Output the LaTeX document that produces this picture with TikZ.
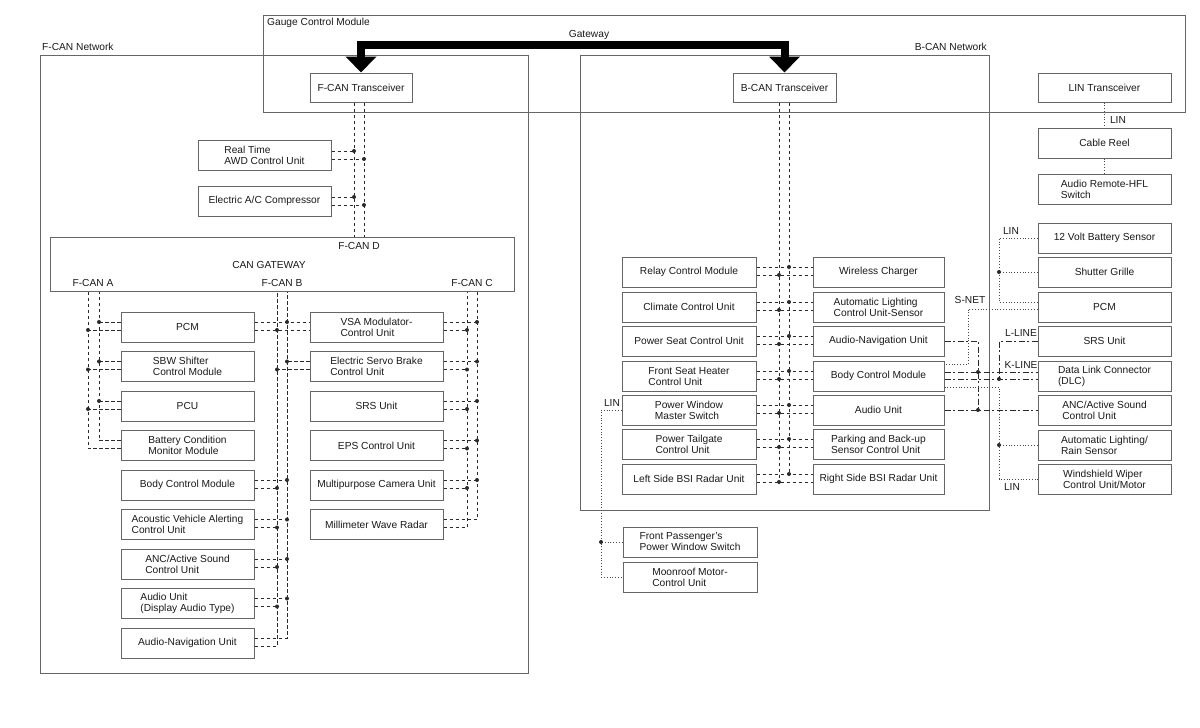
\documentclass[tikz,border=0pt]{standalone}
\usepackage{fontspec}
\setmainfont{Liberation Sans}
\usetikzlibrary{arrows.meta,calc}
\definecolor{boxc}{HTML}{666666}
\definecolor{busc}{HTML}{2A2A2A}
\definecolor{txtc}{HTML}{1A1A1A}
\newcommand\jd[1]{\fill[busc] (#1) circle[radius=2pt];}
\newcommand\mystub[3]{\path ($(#1)+(0,#2)$) coordinate (tmp); \draw[bus] (tmp) -- (tmp -| #3); \jd{tmp -| #3}}
\newcommand\myrow[4]{\path ($(#1)+(0,#3)$) coordinate (tmp); \draw[bus] (tmp) -- ($(#2)+(0,#3)$); \jd{tmp -| #4}}
\begin{document}
\begin{tikzpicture}[x=1pt,y=-1pt,
  font=\fontsize{10.2}{11}\selectfont,
  frame/.style={draw=boxc,line width=1pt},
  bx/.style={draw=boxc,line width=1pt,text=txtc,align=left,minimum height=30pt,inner sep=1pt},
  wA/.style={bx,minimum width=133pt},
  wB/.style={bx,minimum width=134pt},
  wC/.style={bx,minimum width=131pt},
  trx/.style={bx,minimum width=102pt,minimum height=29pt},
  bus/.style={draw=busc,line width=1pt,dash pattern=on 3.5pt off 2.5pt},
  dotl/.style={draw=busc!85,line width=1pt,dash pattern=on 1pt off 1.8pt},
  dashdot/.style={draw=busc,line width=1pt,dash pattern=on 6pt off 2.5pt on 2pt off 2.5pt},
  lbl/.style={text=txtc,inner sep=0pt}
]
\useasboundingbox (0,0) rectangle (1200,728);
\fill[white] (0,0) rectangle (1200,728);

% frames
\draw[frame] (263,15) rectangle (1185,112);
\draw[frame] (40,55) rectangle (528,673);
\draw[frame] (580,55) rectangle (989,510);
\node[lbl,anchor=west] (lgcm) at (267,23) {Gauge Control Module};
\node[lbl] (lgw) at (589,35) {Gateway};
\node[lbl,anchor=west] (lfn) at (42,47) {F-CAN Network};
\node[lbl,anchor=east] (lbn) at (987,47) {B-CAN Network};

% transceivers
\node[trx] (fcant) at (361,87.5) {F-CAN Transceiver};
\node[trx,minimum width=103pt] (bcant) at (784.5,87.5) {B-CAN Transceiver};
\node[wA,minimum height=29pt] (lint) at (1104.5,87.5) {LIN Transceiver};

% gateway arrow
\draw[line width=8pt,line join=miter,{Triangle[width=30pt,length=16pt]}-{Triangle[width=30pt,length=16pt]}] (fcant.north) -- ++(0,-28) -| (bcant.north);

% CAN gateway
\node[draw=boxc,line width=1pt,minimum width=464pt,minimum height=54pt] (gw) at (282,264) {};
\node[lbl] (lfd) at (359,246) {F-CAN D};
\node[lbl] (lcg) at (269,265) {CAN GATEWAY};
\node[lbl] (lfa) at (93,283) {F-CAN A};
\node[lbl] (lfb) at (282,283) {F-CAN B};
\node[lbl] (lfc) at (472,283) {F-CAN C};

% bus x positions
\coordinate (xdL) at (354,0); \coordinate (xdR) at (364,0);
\coordinate (xaL) at (88,0);  \coordinate (xaR) at (99,0);
\coordinate (xbL) at (277,0); \coordinate (xbR) at (287,0);
\coordinate (xcL) at (467,0); \coordinate (xcR) at (477,0);
\coordinate (xBL) at (779,0); \coordinate (xBR) at (789,0);
\coordinate (xlin) at (999,0); \coordinate (xsn) at (968,0); \coordinate (xk) at (978,0);
\coordinate (xlb) at (601,0);

% F-CAN D units
\node[wA] (awd) at (264.5,155) {Real Time\\AWD Control Unit};
\node[wA] (acc) at (264.5,201) {Electric A/C Compressor};

% F-CAN A / B left column
\node[wA] (pcm1) at (187.5,327) {PCM};
\node[wA] (sbw) at (187.5,366.5) {SBW Shifter\\Control Module};
\node[wA] (pcu) at (187.5,406) {PCU};
\node[wA] (bcmm) at (187.5,445.5) {Battery Condition\\Monitor Module};
\node[wA] (bcm1) at (187.5,485) {Body Control Module};
\node[wA] (ava) at (187.5,524.5) {Acoustic Vehicle Alerting\\Control Unit};
\node[wA] (anc1) at (187.5,564) {ANC/Active Sound\\Control Unit};
\node[wA] (aud1) at (187.5,603.5) {Audio Unit\\(Display Audio Type)};
\node[wA] (nav1) at (187.5,643) {Audio-Navigation Unit};

% F-CAN B / C column
\node[wA] (vsa) at (376.5,327) {VSA Modulator-\\Control Unit};
\node[wA] (esb) at (376.5,366.5) {Electric Servo Brake\\Control Unit};
\node[wA] (srs1) at (376.5,406) {SRS Unit};
\node[wA] (eps) at (376.5,445.5) {EPS Control Unit};
\node[wA] (mpc) at (376.5,485) {Multipurpose Camera Unit};
\node[wA] (mwr) at (376.5,524.5) {Millimeter Wave Radar};

% B-CAN left column
\node[wB] (rcm) at (689,272) {Relay Control Module};
\node[wB] (ccu) at (689,307) {Climate Control Unit};
\node[wB] (psc) at (689,341) {Power Seat Control Unit};
\node[wB] (fsh) at (689,376) {Front Seat Heater\\Control Unit};
\node[wB] (pwm) at (689,410) {Power Window\\Master Switch};
\node[wB] (ptg) at (689,444) {Power Tailgate\\Control Unit};
\node[wB] (lbsi) at (689,479) {Left Side BSI Radar Unit};
\node[wB] (fpw) at (690,542) {Front Passenger's\\Power Window Switch};
\node[wB] (moon) at (690,577) {Moonroof Motor-\\Control Unit};

% B-CAN right column
\node[wC] (wch) at (878.5,272) {Wireless Charger};
\node[wC] (alc) at (878.5,307) {Automatic Lighting\\Control Unit-Sensor};
\node[wC] (nav2) at (878.5,341) {Audio-Navigation Unit};
\node[wC] (bcm2) at (878.5,376) {Body Control Module};
\node[wC] (aud2) at (878.5,410) {Audio Unit};
\node[wC] (pbs) at (878.5,444) {Parking and Back-up\\Sensor Control Unit};
\node[wC] (rbsi) at (878.5,479) {Right Side BSI Radar Unit};

% far right column
\node[wA] (creel) at (1104.5,143) {Cable Reel};
\node[wA] (arhfl) at (1104.5,189.5) {Audio Remote-HFL\\Switch};
\node[wA] (bat12) at (1104.5,238) {12 Volt Battery Sensor};
\node[wA] (shg) at (1104.5,272) {Shutter Grille};
\node[wA] (pcm2) at (1104.5,307) {PCM};
\node[wA] (srs2) at (1104.5,341) {SRS Unit};
\node[wA] (dlc) at (1104.5,376) {Data Link Connector\\(DLC)};
\node[wA] (anc2) at (1104.5,410) {ANC/Active Sound\\Control Unit};
\node[wA] (alr) at (1104.5,445) {Automatic Lighting/\\Rain Sensor};
\node[wA] (wwc) at (1104.5,479) {Windshield Wiper\\Control Unit/Motor};

% ---- F-CAN D bus
\draw[bus] (fcant.south -| xdL) -- (gw.north -| xdL);
\draw[bus] (fcant.south -| xdR) -- (gw.north -| xdR);
\mystub{awd.east}{-4}{xdL} \mystub{awd.east}{4}{xdR}
\mystub{acc.east}{-4}{xdL} \mystub{acc.east}{4}{xdR}

% ---- F-CAN A bus
\draw[bus] ($(bcmm.west)+(0,-5)$) -| (gw.south -| xaR);
\draw[bus] ($(bcmm.west)+(0,3)$) -| (gw.south -| xaL);
\foreach \n in {pcm1,sbw,pcu}{\mystub{\n.west}{-5}{xaR} \mystub{\n.west}{3}{xaL}}

% ---- F-CAN B bus
\draw[bus] ($(nav1.east)+(0,-5)$) -| (gw.south -| xbR);
\draw[bus] ($(nav1.east)+(0,3)$) -| (gw.south -| xbL);
\myrow{pcm1.east}{vsa.west}{-5}{xbR} \myrow{pcm1.east}{vsa.west}{3}{xbL}
\mystub{esb.west}{-5}{xbR} \mystub{esb.west}{3}{xbL}
\foreach \n in {bcm1,ava,anc1,aud1}{\mystub{\n.east}{-5}{xbR} \mystub{\n.east}{3}{xbL}}

% ---- F-CAN C bus
\draw[bus] ($(mwr.east)+(0,-5)$) -| (gw.south -| xcR);
\draw[bus] ($(mwr.east)+(0,3)$) -| (gw.south -| xcL);
\foreach \n in {vsa,esb,srs1,eps,mpc}{\mystub{\n.east}{-5}{xcR} \mystub{\n.east}{3}{xcL}}

% ---- B-CAN bus
\path ($(lbsi.east)+(0,-5)$) coordinate (bu);
\path ($(lbsi.east)+(0,3)$) coordinate (bl);
\draw[bus] (bcant.south -| xBR) -- (bu -| xBR);
\draw[bus] (bcant.south -| xBL) -- (bl -| xBL);
\foreach \l/\r in {rcm/wch,ccu/alc,psc/nav2,fsh/bcm2,pwm/aud2,ptg/pbs,lbsi/rbsi}{\myrow{\l.east}{\r.west}{-5}{xBR} \myrow{\l.east}{\r.west}{3}{xBL}}

% ---- B-CAN left LIN
\draw[dotl] (pwm.west) -- (pwm.west -| xlb) |- (moon.west);
\draw[dotl] (fpw.west) -- (fpw.west -| xlb);
\jd{fpw.west -| xlb}
\node[lbl] (llin1) at (612,403) {LIN};

% ---- LIN transceiver chain
\draw[dotl] (lint.south) -- (creel.north);
\draw[dotl] (creel.south) -- (arhfl.north);
\node[lbl] (llin2) at (1118,120) {LIN};

% ---- right side LIN (upper)
\draw[dotl] (bat12.west) -- (bat12.west -| xlin) |- ($(pcm2.west)+(0,-5)$);
\draw[dotl] (shg.west) -- (shg.west -| xlin);
\jd{shg.west -| xlin}
\node[lbl] (llin3) at (1011,231) {LIN};

% ---- S-NET
\path ($(pcm2.west)+(0,2)$) coordinate (sn);
\draw[dotl] (sn) -- (sn -| xsn) |- ($(bcm2.east)+(0,-12)$);
\node[lbl] (lsnet) at (970,300) {S-NET};

% ---- K-LINE / L-LINE (dash-dot)
\path ($(bcm2.east)+(0,-4)$) coordinate (bk1);
\path ($(bcm2.east)+(0,3)$) coordinate (bk2);
\draw[dashdot] (bk1) -- ($(dlc.west)+(0,-4)$);
\draw[dashdot] (bk2) -- ($(dlc.west)+(0,3)$);
\draw[dashdot] (nav2.east) -- (nav2.east -| xk) -- (aud2.east -| xk);
\draw[dashdot] (aud2.east) -- (anc2.west);
\draw[dashdot] (srs2.west) -- (srs2.west -| xlin) -- (bk2 -| xlin);
\jd{bk1 -| xk} \jd{aud2.east -| xk} \jd{bk2 -| xlin}
\node[lbl] (lll) at (1021,333) {L-LINE};
\node[lbl] (lkl) at (1021,365) {K-LINE};

% ---- right side LIN (lower)
\path ($(bcm2.east)+(0,11)$) coordinate (bd);
\draw[dotl] (bd) -- (bd -| xlin) |- (wwc.west);
\draw[dotl] (alr.west) -- (alr.west -| xlin);
\jd{alr.west -| xlin}
\node[lbl] (llin4) at (1012,487) {LIN};
\end{tikzpicture}
\end{document}
